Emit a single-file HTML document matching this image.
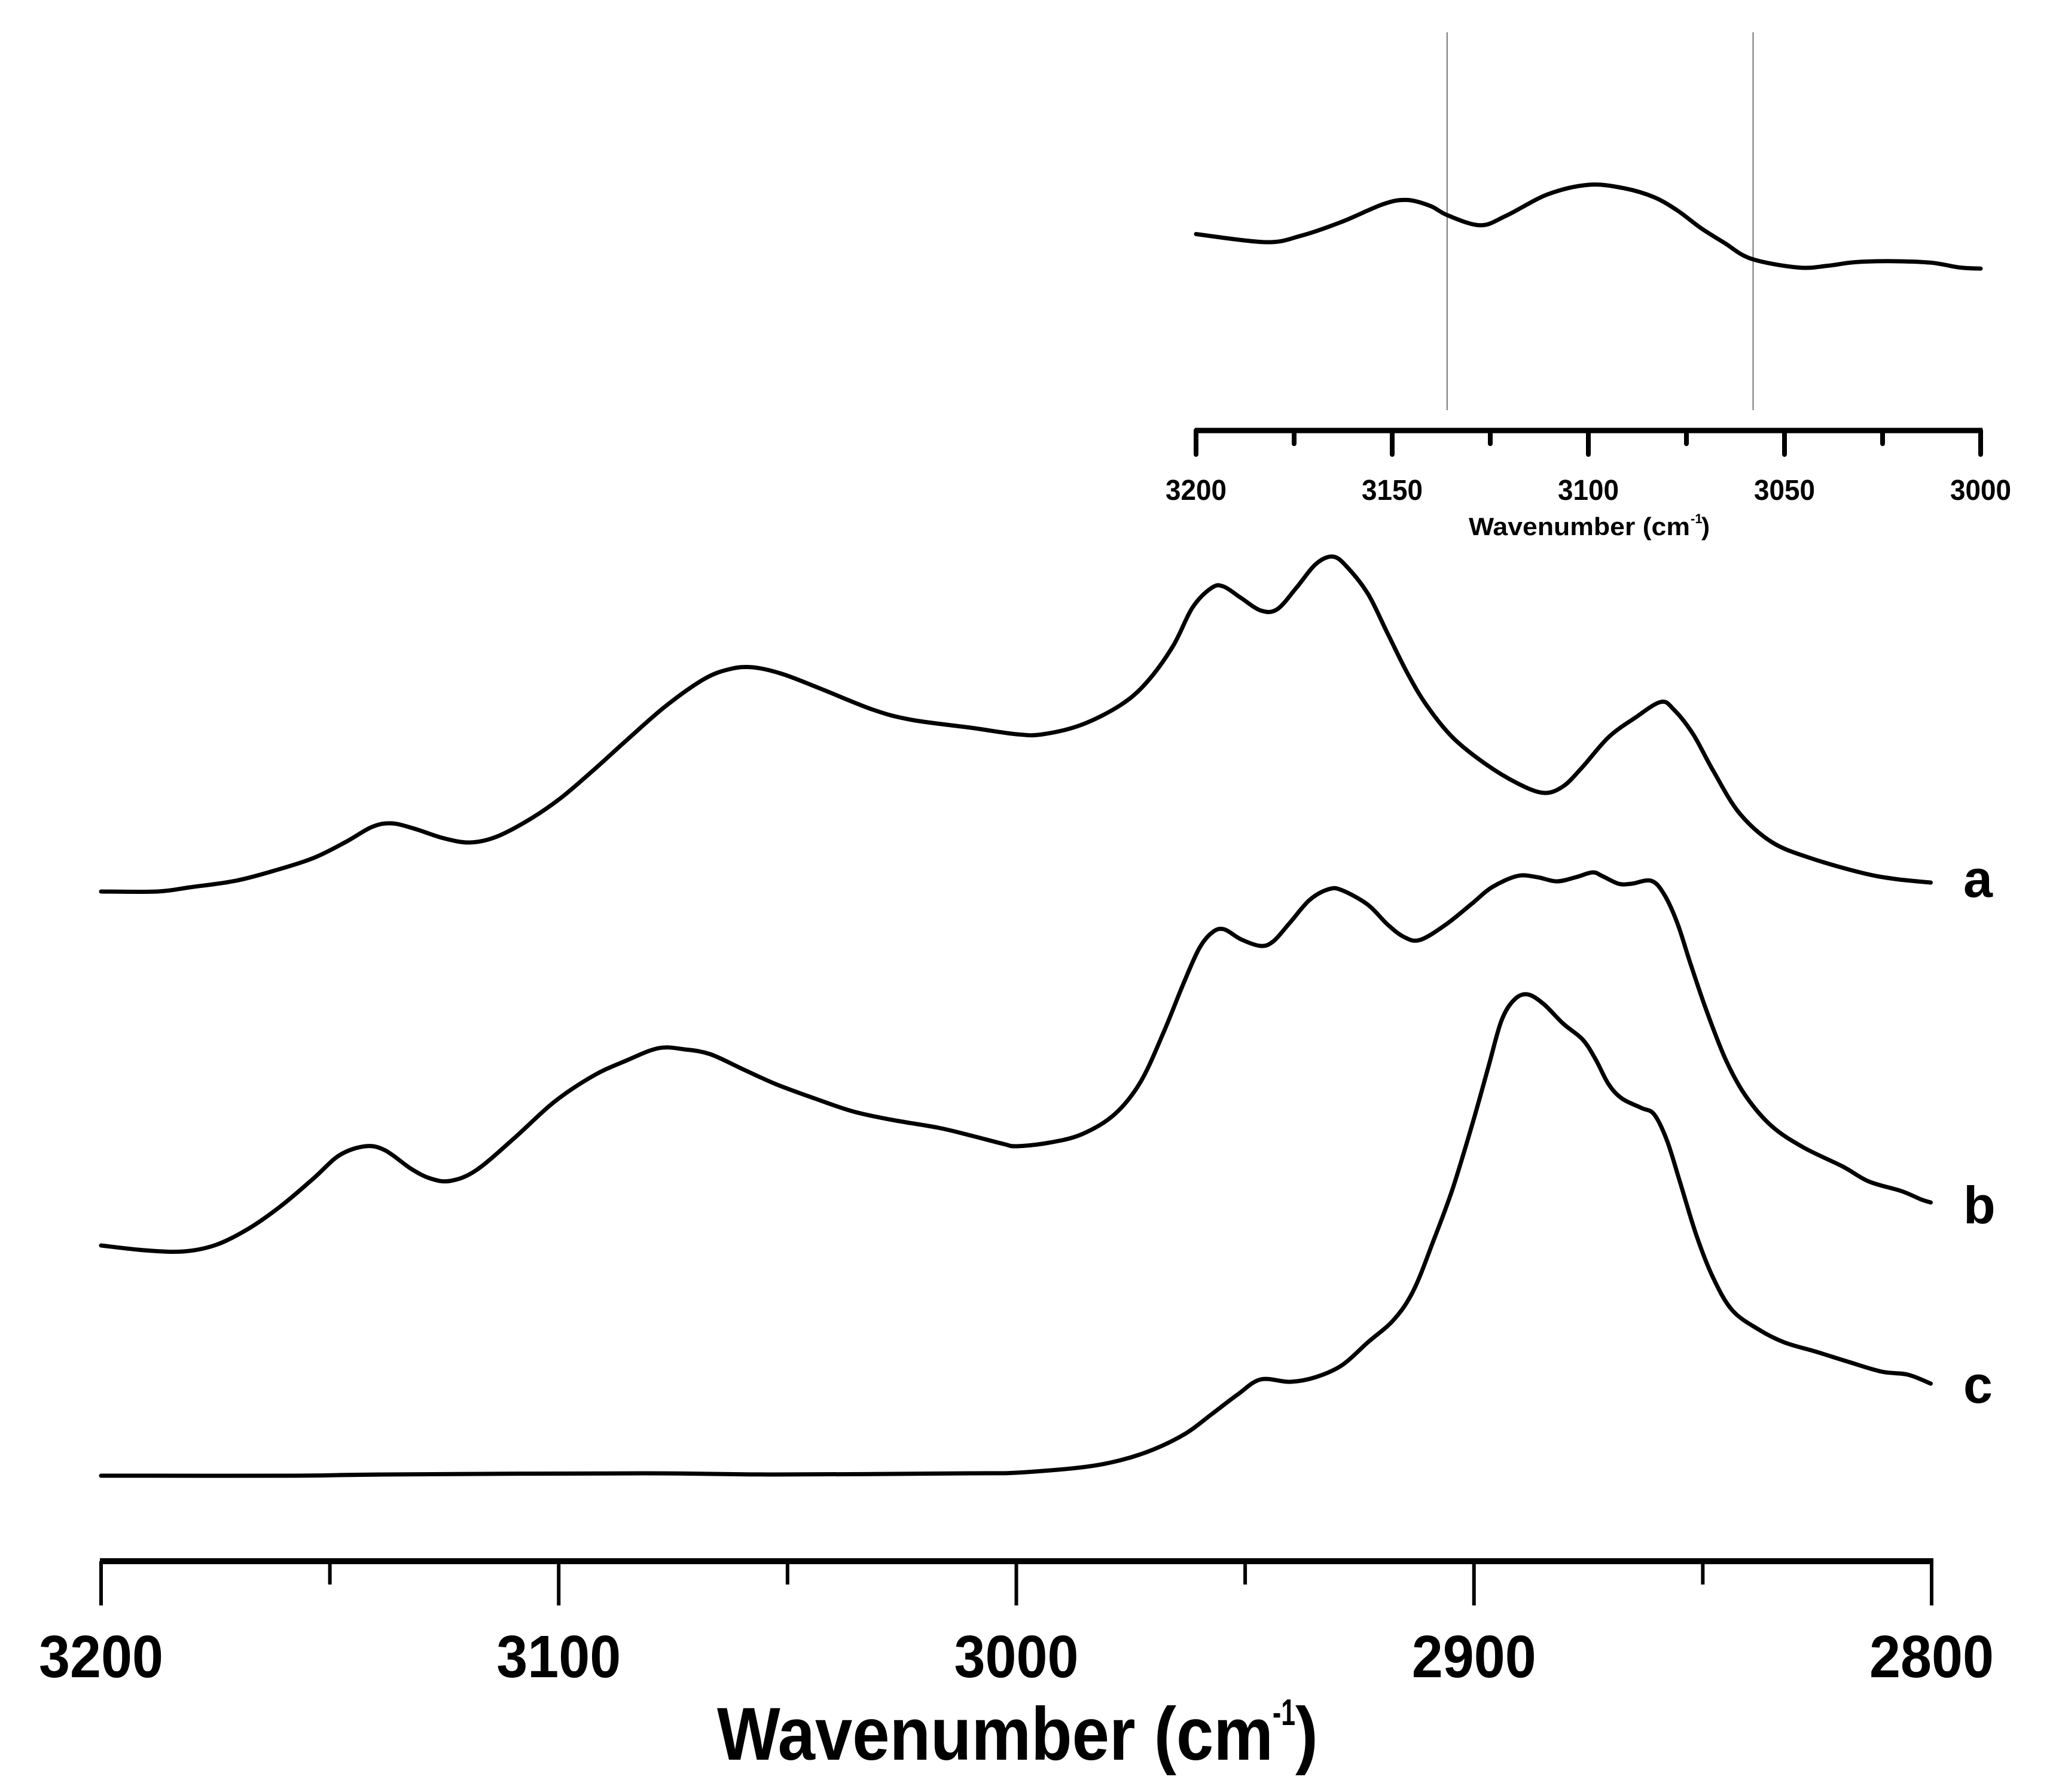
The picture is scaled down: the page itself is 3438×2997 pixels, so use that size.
<!DOCTYPE html>
<html><head><meta charset="utf-8"><style>
html,body{margin:0;padding:0;background:#fff;}
svg{display:block;}
text{font-family:"Liberation Sans",sans-serif;font-weight:bold;fill:#000;}
</style></head><body>
<svg id="chart" width="3438" height="2997" viewBox="0 0 3438 2997" xmlns="http://www.w3.org/2000/svg">
<g id="main"></g>
<g id="inset"></g>
</svg>
<script>
// Main spectra (wavenumber, absorbance a.u.)
const wnA=[3200,3187.7,3180.6,3170.6,3162.1,3153.6,3146.5,3140.8,3136.5,3131.5,3125.1,3119.5,3113.8,3106.7,3099.6,3092.4,3085.3,3076.8,3068.3,3062.6,3057.6,3051.2,3042.7,3031.3,3022.8,3010.0,2999.9,2994.2,2985.7,2977.2,2971.5,2965.8,2961.5,2957.3,2954.7,2950.9,2946.6,2943.0,2938.8,2934.5,2930.7,2927.4,2923.1,2918.9,2914.6,2910.4,2904.7,2897.6,2890.5,2884.8,2880.5,2876.2,2870.6,2864.9,2859.2,2856.3,2852.1,2847.8,2842.1,2835.0,2826.5,2815.1,2808.0,2800.2];
const valA=[1.009,1.009,1.016,1.027,1.044,1.065,1.092,1.117,1.123,1.114,1.098,1.091,1.100,1.128,1.165,1.212,1.261,1.318,1.364,1.381,1.384,1.373,1.348,1.313,1.296,1.283,1.272,1.272,1.288,1.321,1.359,1.419,1.484,1.517,1.519,1.500,1.479,1.481,1.517,1.557,1.569,1.549,1.506,1.441,1.375,1.321,1.267,1.223,1.190,1.174,1.185,1.218,1.267,1.299,1.326,1.313,1.272,1.212,1.141,1.092,1.065,1.040,1.030,1.024];
const wnB=[3200,3190.5,3182.0,3174.9,3167.8,3160.7,3153.6,3147.9,3142.2,3137.9,3132.2,3128.0,3123.7,3118.0,3109.5,3101.0,3092.4,3085.3,3078.2,3072.5,3066.9,3059.8,3052.6,3044.1,3035.6,3027.1,3017.1,3010.0,3002.9,2999.9,2992.8,2985.7,2978.6,2972.9,2967.9,2963.6,2960.1,2957.3,2954.7,2950.9,2946.6,2943.8,2940.2,2935.9,2931.7,2928.8,2923.2,2918.9,2915.3,2911.8,2906.1,2900.4,2896.1,2890.5,2886.2,2881.9,2877.7,2874.1,2872.0,2868.4,2865.6,2861.3,2858.5,2855.6,2852.8,2849.2,2845.0,2840.7,2835.0,2828.0,2819.4,2813.7,2806.6,2802.3,2800.2];
const valB=[0.417,0.409,0.407,0.418,0.445,0.483,0.529,0.568,0.583,0.576,0.545,0.529,0.525,0.543,0.598,0.657,0.701,0.726,0.747,0.745,0.737,0.712,0.687,0.663,0.641,0.627,0.614,0.601,0.587,0.583,0.589,0.603,0.636,0.690,0.772,0.853,0.913,0.940,0.946,0.929,0.918,0.926,0.957,0.995,1.013,1.011,0.987,0.954,0.933,0.928,0.954,0.989,1.016,1.035,1.033,1.026,1.033,1.041,1.035,1.022,1.022,1.027,1.005,0.957,0.891,0.810,0.728,0.668,0.617,0.581,0.549,0.524,0.508,0.494,0.489];
const wnC=[3200,3157.8,3137.9,3081.1,3052.6,3010.0,2999.9,2985.7,2977.2,2970.0,2962.9,2957.3,2951.6,2946.6,2940.2,2934.5,2928.8,2923.2,2917.5,2913.2,2908.9,2904.7,2900.4,2896.8,2894.0,2891.2,2888.3,2884.8,2880.5,2876.2,2873.4,2870.6,2867.7,2863.4,2860.6,2857.8,2854.9,2851.4,2847.8,2843.6,2837.9,2832.2,2825.1,2818.0,2810.9,2805.2,2800.2];
const valC=[0.032,0.032,0.034,0.036,0.034,0.036,0.037,0.046,0.058,0.076,0.103,0.135,0.168,0.193,0.189,0.197,0.217,0.255,0.293,0.342,0.424,0.511,0.619,0.717,0.793,0.828,0.837,0.821,0.788,0.761,0.728,0.687,0.663,0.647,0.636,0.592,0.521,0.434,0.364,0.309,0.277,0.255,0.239,0.222,0.206,0.201,0.186];
const seriesLabels=["a","b","c"];
const mainTicks=[3200,3100,3000,2900,2800];
const mainMinor=[3150,3050,2950,2850];
// Inset spectrum
const wnI=[3200,3182.3,3173.3,3162.8,3152.3,3146.3,3140.3,3135.8,3127.5,3120.8,3110.3,3099.8,3090.8,3083.3,3077.3,3071.3,3065.3,3058.5,3046.5,3039.0,3032.3,3023.3,3012.8,3005.3,3000];
const valI=[1.35,1.12,1.30,1.70,2.20,2.32,2.15,1.88,1.60,1.88,2.48,2.75,2.65,2.40,2.02,1.52,1.10,0.65,0.40,0.45,0.55,0.58,0.54,0.40,0.37];
const insetTicks=[3200,3150,3100,3050,3000];
const insetMinor=[3175,3125,3075,3025];
const insetMarkers=[3136,3058];

const NS="http://www.w3.org/2000/svg";
function mk(tag,attrs,parent){const e=document.createElementNS(NS,tag);for(const k in attrs)e.setAttribute(k,attrs[k]);parent.appendChild(e);return e;}
const X=wn=>169+(3200-wn)/400*3061;
const Y=v=>2500-v*1000;
const XI=wn=>2000+(3200-wn)/200*1312;
const YI=v=>471-58.9*v;
function smooth(p){
  let d='M'+p[0][0].toFixed(1)+','+p[0][1].toFixed(1);
  for(let i=0;i<p.length-1;i++){
    const p0=p[Math.max(0,i-1)],p1=p[i],p2=p[i+1],p3=p[Math.min(p.length-1,i+2)];
    const c1x=p1[0]+(p2[0]-p0[0])/6,c1y=p1[1]+(p2[1]-p0[1])/6;
    const c2x=p2[0]-(p3[0]-p1[0])/6,c2y=p2[1]-(p3[1]-p1[1])/6;
    d+=' C'+c1x.toFixed(1)+','+c1y.toFixed(1)+' '+c2x.toFixed(1)+','+c2y.toFixed(1)+' '+p2[0].toFixed(1)+','+p2[1].toFixed(1);
  }
  return d;
}

const main=document.getElementById('main');
const inset=document.getElementById('inset');

[[wnA,valA,'series-a'],[wnB,valB,'series-b'],[wnC,valC,'series-c']].forEach(([w,v,n])=>{
  const pts=w.map((x,i)=>[X(x),Y(v[i])]);
  const p=mk('path',{d:smooth(pts),fill:'none',stroke:'#000','stroke-width':7,'stroke-linejoin':'round','stroke-linecap':'round'},main);
  
  
});
const labY=[1500,2046,2346];
seriesLabels.forEach((s,i)=>{
  const t=mk('text',{x:3283,y:labY[i],'font-size':88},main);
  t.textContent=s;
  
  
});
const ax=mk('line',{x1:167,x2:3233,y1:2611,y2:2611,stroke:'#000','stroke-width':10},main);


mainTicks.forEach(t=>{
  const l=mk('line',{x1:X(t),x2:X(t),y1:2611,y2:2685,stroke:'#000','stroke-width':6},main);
  
  
  const tx=mk('text',{x:X(t),y:2805,'font-size':100,'text-anchor':'middle',textLength:208,lengthAdjust:'spacingAndGlyphs'},main);
  tx.textContent=String(t);
  
  
});
mainMinor.forEach(t=>{
  const l=mk('line',{x1:X(t),x2:X(t),y1:2611,y2:2650,stroke:'#000','stroke-width':6},main);
  
  
});
const ttl=mk('text',{x:1199,y:2943,'font-size':125,textLength:930,lengthAdjust:'spacingAndGlyphs'},main);
ttl.textContent='Wavenumber (cm';


const sup=mk('text',{x:2128,y:2885,'font-size':62,textLength:38,lengthAdjust:'spacingAndGlyphs'},main);
sup.textContent='-1';


const cp=mk('text',{x:2166,y:2943,'font-size':125,textLength:38,lengthAdjust:'spacingAndGlyphs'},main);
cp.textContent=')';



insetMarkers.forEach(m=>{
  const l=mk('line',{x1:XI(m),x2:XI(m),y1:54,y2:686,stroke:'#777','stroke-width':2},inset);
  
  
});
const ip=mk('path',{d:smooth(wnI.map((x,i)=>[XI(x),YI(valI[i])])),fill:'none',stroke:'#000','stroke-width':7,'stroke-linejoin':'round','stroke-linecap':'round'},inset);


const iax=mk('line',{x1:1998,x2:3315,y1:720,y2:720,stroke:'#000','stroke-width':9},inset);


insetTicks.forEach(t=>{
  const l=mk('line',{x1:XI(t),x2:XI(t),y1:720,y2:760,stroke:'#000','stroke-width':8,'stroke-linecap':'round'},inset);
  
  
  const tx=mk('text',{x:XI(t),y:836,'font-size':48,'text-anchor':'middle',textLength:102,lengthAdjust:'spacingAndGlyphs'},inset);
  tx.textContent=String(t);
  
  
});
insetMinor.forEach(t=>{
  const l=mk('line',{x1:XI(t),x2:XI(t),y1:720,y2:742,stroke:'#000','stroke-width':8,'stroke-linecap':'round'},inset);
  
  
});
const it=mk('text',{x:2456,y:895,'font-size':42,textLength:370,lengthAdjust:'spacingAndGlyphs'},inset);
it.textContent='Wavenumber (cm';


const is=mk('text',{x:2827,y:875,'font-size':22},inset);
is.textContent='-1';


const ic=mk('text',{x:2845,y:895,'font-size':42},inset);
ic.textContent=')';


</script>
</body></html>
